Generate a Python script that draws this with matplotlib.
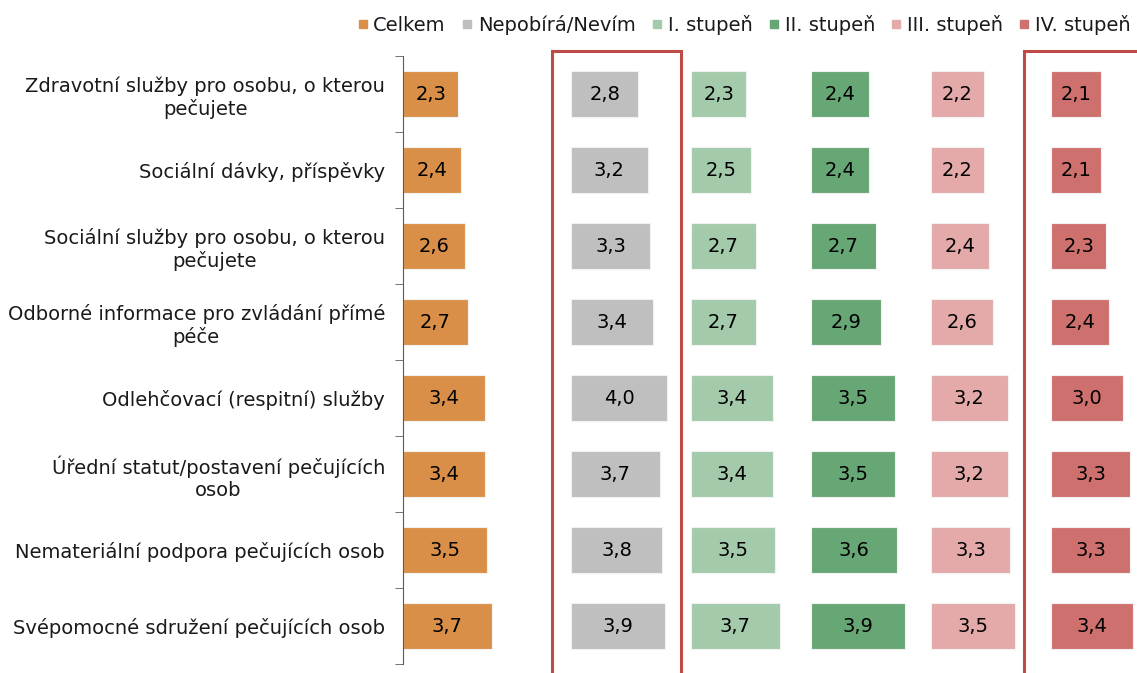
import matplotlib.pyplot as plt
from matplotlib.lines import Line2D
from matplotlib.patches import Rectangle

plt.rcParams['font.family'] = ['DejaVu Sans']
plt.rcParams['text.color'] = '#1a1a1a'

kategorie = ['Zdravotní služby pro osobu, o kterou\npečujete',
             'Sociální dávky, příspěvky',
             'Sociální služby pro osobu, o kterou\npečujete',
             'Odborné informace pro zvládání přímé\npéče',
             'Odlehčovací (respitní) služby',
             'Úřední statut/postavení pečujících\nosob',
             'Nemateriální podpora pečujících osob',
             'Svépomocné sdružení pečujících osob']

serie = ['Celkem', 'Nepobírá/Nevím', 'I. stupeň', 'II. stupeň', 'III. stupeň', 'IV. stupeň']
celkem = [2.3, 2.4, 2.6, 2.7, 3.4, 3.4, 3.5, 3.7]
nepobira = [2.8, 3.2, 3.3, 3.4, 4.0, 3.7, 3.8, 3.9]
stupen1 = [2.3, 2.5, 2.7, 2.7, 3.4, 3.4, 3.5, 3.7]
stupen2 = [2.4, 2.4, 2.7, 2.9, 3.5, 3.5, 3.6, 3.9]
stupen3 = [2.2, 2.2, 2.4, 2.6, 3.2, 3.2, 3.3, 3.5]
stupen4 = [2.1, 2.1, 2.3, 2.4, 3.0, 3.3, 3.3, 3.4]
hodnoty = [celkem, nepobira, stupen1, stupen2, stupen3, stupen4]

barvy = ['#DA8F48', '#BFBFBF', '#A3CBAB', '#67A775', '#E3AAA9', '#CE716E']
posun = [0, 7, 12, 17, 22, 27]   # kde zacina kazdy sloupec

fig = plt.figure(figsize=(11.37, 6.73), dpi=100)
W, H = 1137, 673
ax = fig.add_axes([403 / W, 1 - 664 / H, (W - 403) / W, (664 - 56) / H])

y = list(range(len(kategorie)))
for vals, barva, x0 in zip(hodnoty, barvy, posun):
    ax.barh(y, vals, left=x0, height=0.6, color=barva, edgecolor='#F2F2F2', linewidth=0.8)
    for i, v in enumerate(vals):
        ax.text(x0 + v / 2, i, f'{v:.1f}'.replace('.', ','), ha='center', va='center',
                fontsize=14, color='black')

ax.set_xlim(0, (W - 403) / 24)
ax.set_ylim(len(kategorie) - 0.5, -0.5)
ax.set_xticks([])
ax.set_yticks(y)
ax.set_yticklabels(kategorie, fontsize=14, color='#1a1a1a')
for lab in ax.get_yticklabels():
    lab.set_multialignment('center')
ax.set_yticks([i - 0.5 for i in range(len(kategorie) + 1)], minor=True)
ax.tick_params(axis='y', which='major', length=0, pad=13)
ax.tick_params(axis='y', which='minor', length=6, color='#595959')
for s in ['top', 'right', 'bottom']:
    ax.spines[s].set_visible(False)
ax.spines['left'].set_color('#595959')

# ramecky kolem dvou sloupcu
cervena = '#BE4B48'
fig.patches.append(Rectangle((552 / W, -0.05), (681 - 552) / W, 1.05 - 51 / H,
                             transform=fig.transFigure, fill=False, edgecolor=cervena,
                             linewidth=2.2))
fig.patches.append(Rectangle((1024 / W, -0.05), 0.2, 1.05 - 51 / H,
                             transform=fig.transFigure, fill=False, edgecolor=cervena,
                             linewidth=2.2))

handles = [Line2D([], [], marker='s', linestyle='none', markersize=5.5, color=b) for b in barvy]
fig.legend(handles, serie, loc='center right', bbox_to_anchor=(1.003, 1 - 25 / H), ncol=6,
           frameon=False, fontsize=14, handlelength=0.5, handletextpad=0.3, columnspacing=0.85,
           borderpad=0)

plt.savefig('out.png', dpi=100)
plt.close()
